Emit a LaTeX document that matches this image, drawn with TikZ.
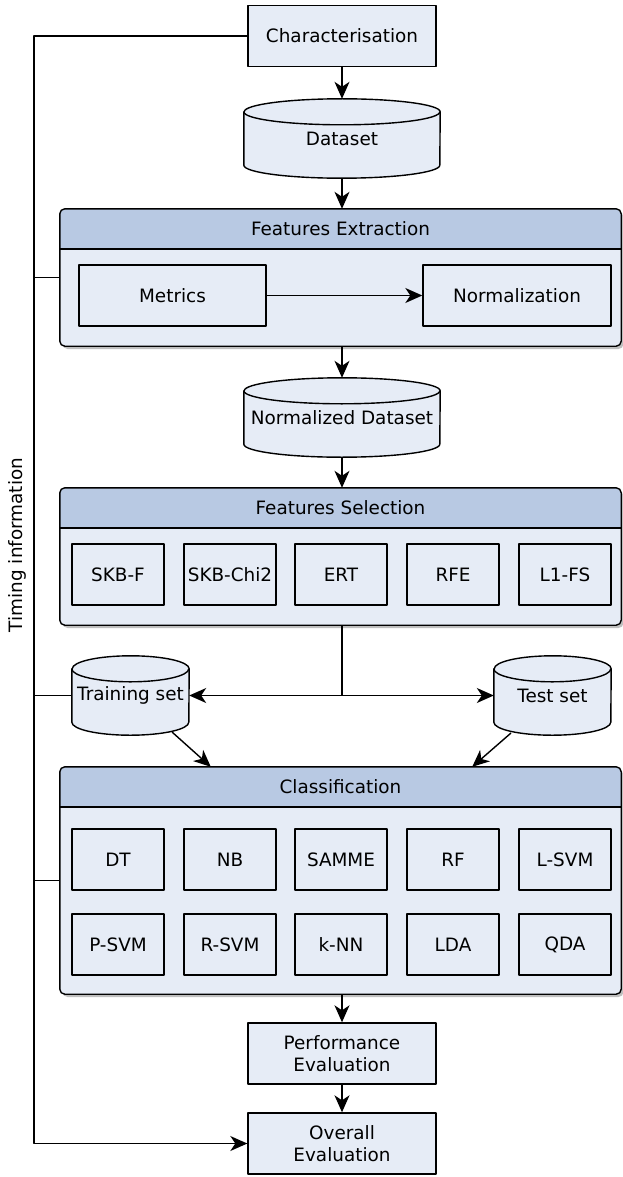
\documentclass[tikz,border=0pt]{standalone}
\usepackage{fontspec}
\setmainfont{DejaVu Sans}
\usetikzlibrary{arrows.meta,shadows,calc}
\definecolor{fillc}{RGB}{230,236,246}
\definecolor{headc}{RGB}{184,201,227}
\newcommand{\dbcyl}[3]{%
  \filldraw[bline,fill=fillc] ([yshift=-#3pt]#1.north west) -- ([yshift=#3pt]#1.south west)
    arc[start angle=180,end angle=360,x radius=#2pt,y radius=#3pt]
    -- ([yshift=-#3pt]#1.north east)
    arc[start angle=0,end angle=180,x radius=#2pt,y radius=#3pt] -- cycle;
  \draw[bline] ([yshift=-#3pt]#1.north west) arc[start angle=180,end angle=360,x radius=#2pt,y radius=#3pt];
}
\newcommand{\contbox}[3]{%
  \fill[headc] ([yshift=-40pt]#1.north west) [rounded corners=5pt] -- (#1.north west) -- (#1.north east) [sharp corners] -- ([yshift=-40pt]#1.north east) -- cycle;
  \draw[bline] ([yshift=-40pt]#1.north west) -- ([yshift=-40pt]#1.north east);
  \draw[bline,rounded corners=5pt] (#1.south west) rectangle (#1.north east);
  \node[txt] (#2) at ([yshift=-20pt]#1.north) {#3};
}
\tikzset{
  bline/.style={line width=1.4pt,draw=black,line join=round},
  txt/.style={font=\fontsize{18.4}{22}\selectfont,text=black,align=center},
  boxn/.style={txt,bline,fill=fillc,rectangle,inner sep=0pt},
  wide/.style={boxn,minimum width=188pt,minimum height=61pt},
  small/.style={boxn,minimum width=92pt,minimum height=61pt},
  cylnode/.style={txt,inner sep=0pt,draw=none},
  cont/.style={rectangle,rounded corners=5pt,fill=fillc,draw=none,minimum width=561pt,inner sep=0pt,
     drop shadow={shadow xshift=2.5pt,shadow yshift=-3pt,opacity=0.25,fill=black}},
  arr/.style={bline,-{Stealth[length=17pt,width=15pt,inset=5pt]}},
  conn/.style={bline},
}
\begin{document}
\begin{tikzpicture}[x=1pt,y=-1pt]
\useasboundingbox (0,0) rectangle (622,1177);

% top
\node[wide] (char) at (342,36) {Characterisation};
\node[cylnode,minimum width=196pt,minimum height=79pt] (ds) at (342,138.5) {};
\dbcyl{ds}{98}{13}
\node[txt] (dst) at (342,138.5) {Dataset};

% Features extraction
\node[cont,minimum height=137pt] (fe) at (340.5,277.5) {};
\contbox{fe}{fet}{Features Extraction}
\node[boxn,minimum width=187pt,minimum height=61pt] (met) at (172.5,295.5) {Metrics};
\node[wide] (norm) at (517,295.5) {Normalization};

\node[cylnode,minimum width=196pt,minimum height=79pt] (nds) at (342,417.5) {};
\dbcyl{nds}{98}{13}
\node[txt] (ndst) at (342,417.5) {Normalized Dataset};

% Features selection
\node[cont,minimum height=137pt] (fs) at (340.5,556.5) {};
\contbox{fs}{fst}{Features Selection}
\node[small] (s1) at (118,574.5) {SKB-F};
\node[small] (s2) at (230,574.5) {SKB-Chi2};
\node[small] (s3) at (341,574.5) {ERT};
\node[small] (s4) at (453,574.5) {RFE};
\node[small] (s5) at (565,574.5) {L1-FS};

% training / test
\node[cylnode,minimum width=117pt,minimum height=79pt] (train) at (130.5,695.5) {};
\dbcyl{train}{58.5}{13}
\node[txt] (traint) at (130.5,695.5) {Training set};
\node[cylnode,minimum width=117pt,minimum height=79pt] (test) at (552.5,695.5) {};
\dbcyl{test}{58.5}{13}
\node[txt] (testt) at (552.5,695.5) {Test set};

% Classification
\node[cont,minimum height=227pt] (cl) at (340.5,880.5) {};
\contbox{cl}{clt}{Classification}
\node[small] (c1) at (118,859.5) {DT};
\node[small] (c2) at (230,859.5) {NB};
\node[small] (c3) at (341,859.5) {SAMME};
\node[small] (c4) at (453,859.5) {RF};
\node[small] (c5) at (565,859.5) {L-SVM};
\node[small] (c6) at (118,944.5) {P-SVM};
\node[small] (c7) at (230,944.5) {R-SVM};
\node[small] (c8) at (341,944.5) {k-NN};
\node[small] (c9) at (453,944.5) {LDA};
\node[small] (c10) at (565,944.5) {QDA};

\node[wide] (perf) at (342,1053.5) {Performance\\Evaluation};
\node[wide] (over) at (342,1143.5) {Overall\\Evaluation};

% timing label
\node[txt,rotate=90] (timing) at (17,545) {Timing information};

% connectors
\coordinate (tl) at (34,36);
\coordinate (split) at (342,695.5);
\coordinate (trs) at (172,732);
\coordinate (tes) at (511,733);
\coordinate (trt) at ($(cl.north west)+(151,0)$);
\coordinate (tet) at ($(cl.north east)+(-149,0)$);

\draw[arr] (char.south) -- (ds.north);
\draw[arr] (ds.south) -- (ds.south |- fe.north);
\draw[arr] (met.east) -- (norm.west);
\draw[arr] (nds.north |- fe.south) -- (nds.north);
\draw[arr] (nds.south) -- (nds.south |- fs.north);
\draw[conn] (split |- fs.south) -- (split);
\draw[arr] (split) -- (train.east);
\draw[arr] (split) -- (test.west);
\draw[arr] (trs) -- (trt);
\draw[arr] (tes) -- (tet);
\draw[arr] (perf.north |- cl.south) -- (perf.north);
\draw[arr] (perf.south) -- (over.north);

\draw[conn] (char.west) -- (tl) |- (over.west);
\draw[arr] (tl |- over.west) -- (over.west);
\draw[conn] (tl |- fe.west) -- (fe.west);
\draw[conn] (tl |- train.west) -- (train.west);
\draw[conn] (tl |- cl.west) -- (cl.west);
\end{tikzpicture}
\end{document}
